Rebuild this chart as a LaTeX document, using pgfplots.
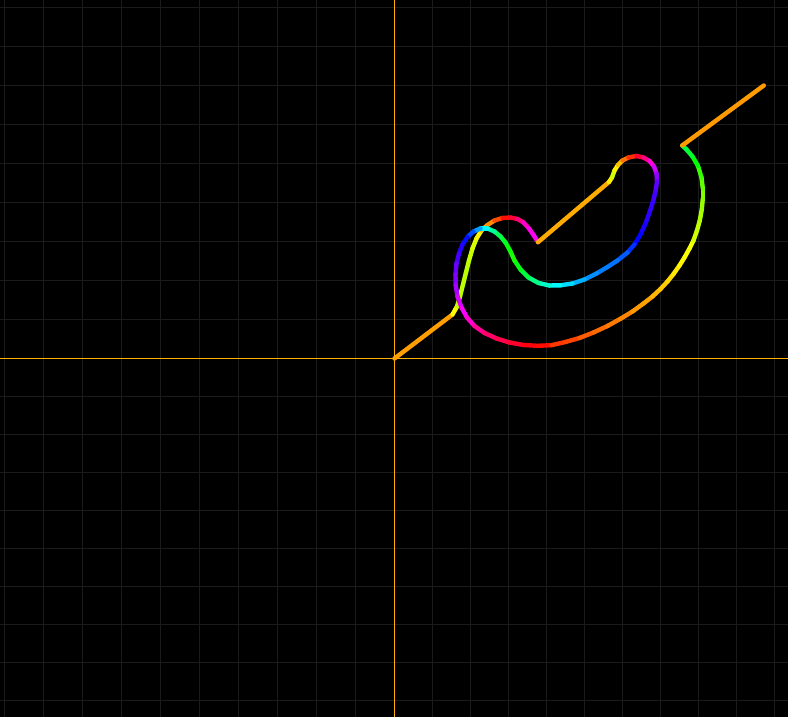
\documentclass[border=0pt]{standalone}
\usepackage{pgfplots}
\pgfplotsset{compat=1.18}
\usepackage{pgfplotstable}
\definecolor{gridgray}{RGB}{27,27,27}
\definecolor{axisorange}{RGB}{255,176,0}
\pgfplotstableread{
x y h
0 0 37.2
58 44 60.6
62.5 52 73.3
65.5 62 76.0
68.5 74 76.0
71.5 86 76.0
74.5 98 73.7
78 110 68.2
82 120 58.0
87 128 42.5
93 133.5 32.7
100 138 17.4
108 140.5 3.6
116 141 347.9
123 139.5 329.7
129 136 312.5
134.5 130 304.7
139 123.5 302
143.5 116.3 40.3
214.5 176.5 56.3
217.5 181 70.3
220 188 57.5
223.5 193.5 45
228 198 26.6
234 201 10.6
242 202.5 347.9
249 201 329.7
255 197.5 309.3
259.5 192 289.7
262 185 273.6
262.5 177 261.5
261 167 256
258.5 157 252.4
255 146 250
251 135 245.6
246 124 239
240 114 228.8
233 106 218.7
223 98 213
213 91.5 210.6
202 85 206.6
190 79 198.4
178 75 188.5
166 73.2 181
155 73 167.2
144 75.5 151.2
134 81 135
126 89 123.7
120 98 114.2
115.5 108 119.4
111 116 129.8
106 122 140.2
100 127 156.8
93 130 180
86 130 203.2
79 127 222.5
73 121.5 236.3
68 114 248.7
64.5 105 256
62 95 264.8
61 84 271
61.2 73 279.3
63 62 290
67 51 298.8
72.5 41 311.4
80 32.5 325
90 25.5 335.4
102 20 342.9
115 16 349.9
129 13.5 356.7
143 12.7 2.5
157 13.3 12.9
171 16.5 15.9
185 20.5 21.4
199 26 24.9
213 32.5 29
226 39.7 31.3
238 47 36
249 55 37.9
258 62 43.2
266 69.5 47
273 77 51.3
279 84.5 54.8
285 93 58
290 101 60.9
295 110 63.4
299 118 70.7
302.5 128 74.4
305.3 138 79.7
307.3 149 84.8
308.3 160 90
308.3 170 96.7
307 181 106.9
303.5 192.5 120.1
298 202 130.6
292 209 137.1
287.7 213 36.3
369.3 273 36.3
}\curvedata
\begin{document}
\begin{tikzpicture}
\begin{axis}[
  scale only axis, width=788pt, height=717pt,
  xmin=-394.5, xmax=393.5, ymin=-358.5, ymax=358.5,
  axis background/.style={fill=black},
  axis lines=middle,
  axis line style={draw=axisorange, line width=1.1pt, -},
  every inner x axis line/.append style={-},
  every inner y axis line/.append style={-},
  xtick={-390,-351,-312,-273,-234,-195,-156,-117,-78,-39,38,76,114,152,190,228,266,304,342,380},
  ytick={-342,-304,-266,-228,-190,-152,-114,-76,-38,39,78,117,156,195,234,273,312,351},
  xticklabels={}, yticklabels={},
  major tick length=0pt,
  xmajorgrids, ymajorgrids,
  major grid style={draw=gridgray, line width=1pt},
  colormap={huewheel}{rgb255=(255,0,0) rgb255=(255,255,0) rgb255=(0,255,0) rgb255=(0,255,255) rgb255=(0,0,255) rgb255=(255,0,255) rgb255=(255,0,0)},
  point meta min=0, point meta max=360,
]
\addplot[mesh, shader=flat corner, point meta=explicit, line width=4.4pt, line cap=round, line join=round] table[x=x, y=y, meta=h] {\curvedata};
\coordinate (sw) at (rel axis cs:0,0);
\coordinate (ne) at (rel axis cs:1,1);
\end{axis}
\pgfresetboundingbox
\useasboundingbox (sw) rectangle (ne);
\end{tikzpicture}
\end{document}
